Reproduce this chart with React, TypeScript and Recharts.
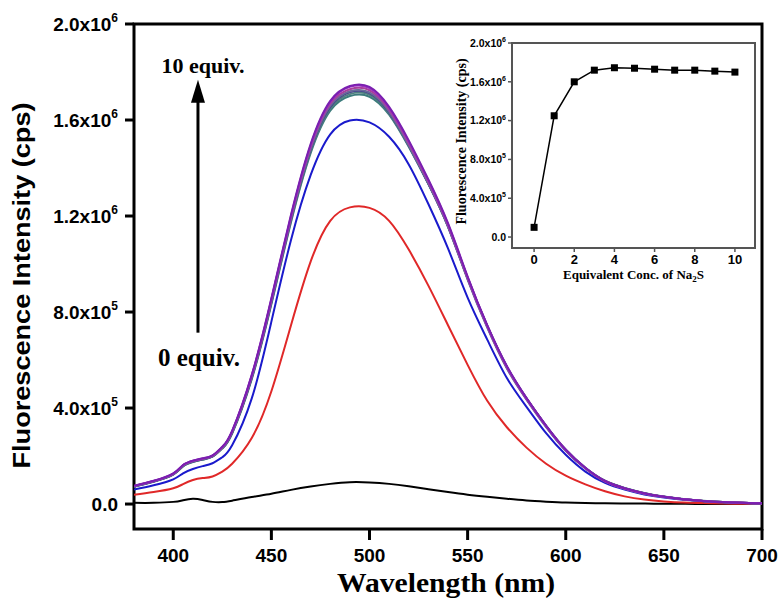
import { Line, LineChart, ReferenceArea, ReferenceLine, XAxis, YAxis } from "recharts";

const SANS = "'Liberation Sans', Arial, sans-serif";
const SERIF = "'Liberation Serif', 'Times New Roman', serif";

// emission spectra, wavelength in nm
const wavelengths = [
  380, 390, 400, 405, 410, 415, 420, 425, 430, 440, 450, 460, 470, 480, 490, 500, 510, 520,
  530, 540, 550, 560, 570, 580, 590, 600, 610, 620, 630, 640, 650, 660, 670, 680, 690, 700,
];

const equiv0 = [
  5e3, 5e3, 9e3, 1.6e4, 2.2e4, 1.7e4, 9e3, 8e3, 1.4e4, 2.9e4, 4.3e4, 5.9e4, 7.3e4, 8.4e4, 9.1e4, 9.0e4, 8.4e4, 7.4e4,
  6.2e4, 5.0e4, 3.9e4, 3.0e4, 2.2e4, 1.5e4, 1.0e4, 6e3, 4e3, 3e3, 2e3, 2e3, 1e3, 1e3, 0, 0, 0, 0,
];
const equiv1 = [
  3.9e4, 5.0e4, 6.6e4, 8.3e4, 1.0e5, 1.08e5, 1.15e5, 1.35e5, 1.68e5, 2.75e5, 4.7e5, 7.45e5, 1.01e6, 1.18e6, 1.236e6, 1.234e6, 1.18e6, 1.06e6,
  9.1e5, 7.45e5, 5.8e5, 4.3e5, 3.2e5, 2.35e5, 1.68e5, 1.18e5, 8.2e4, 5.3e4, 3.2e4, 1.9e4, 1.1e4, 6e3, 4e3, 2e3, 1e3, 0,
];
const equiv2 = [
  6.0e4, 7.8e4, 1.03e5, 1.28e5, 1.46e5, 1.58e5, 1.7e5, 1.95e5, 2.45e5, 4.4e5, 7.6e5, 1.1e6, 1.37e6, 1.54e6, 1.598e6, 1.59e6, 1.53e6, 1.415e6,
  1.25e6, 1.065e6, 8.6e5, 6.85e5, 5.25e5, 4.05e5, 2.95e5, 2.05e5, 1.35e5, 8.8e4, 6.0e4, 4.0e4, 2.7e4, 1.8e4, 1.2e4, 7e3, 4e3, 2e3,
];
const equiv3 = [
  7.4e4, 9.5e4, 1.25e5, 1.6e5, 1.78e5, 1.88e5, 2.0e5, 2.35e5, 3.0e5, 5.3e5, 8.45e5, 1.19e6, 1.48e6, 1.66e6, 1.72e6, 1.715e6, 1.635e6, 1.495e6,
  1.335e6, 1.155e6, 9.35e5, 7.35e5, 5.65e5, 4.35e5, 3.2e5, 2.22e5, 1.48e5, 9.4e4, 6.4e4, 4.3e4, 2.9e4, 1.9e4, 1.2e4, 7e3, 4e3, 2e3,
];
const equiv4 = [
  7.6e4, 9.7e4, 1.28e5, 1.63e5, 1.81e5, 1.91e5, 2.03e5, 2.39e5, 3.05e5, 5.38e5, 8.57e5, 1.205e6, 1.5e6, 1.68e6, 1.742e6, 1.738e6, 1.655e6, 1.515e6,
  1.352e6, 1.17e6, 9.48e5, 7.45e5, 5.75e5, 4.42e5, 3.27e5, 2.27e5, 1.51e5, 9.6e4, 6.6e4, 4.5e4, 3.0e4, 2.0e4, 1.3e4, 8e3, 5e3, 3e3,
];
const equiv5 = [
  7.5e4, 9.6e4, 1.27e5, 1.62e5, 1.8e5, 1.9e5, 2.02e5, 2.38e5, 3.04e5, 5.36e5, 8.53e5, 1.2e6, 1.495e6, 1.675e6, 1.738e6, 1.733e6, 1.65e6, 1.51e6,
  1.348e6, 1.166e6, 9.45e5, 7.43e5, 5.72e5, 4.4e5, 3.25e5, 2.25e5, 1.5e5, 9.5e4, 6.5e4, 4.4e4, 3.0e4, 2.0e4, 1.3e4, 8e3, 5e3, 3e3,
];
const equiv6 = [
  7.5e4, 9.6e4, 1.26e5, 1.61e5, 1.79e5, 1.89e5, 2.01e5, 2.36e5, 3.02e5, 5.33e5, 8.5e5, 1.195e6, 1.488e6, 1.668e6, 1.728e6, 1.724e6, 1.643e6, 1.503e6,
  1.342e6, 1.162e6, 9.42e5, 7.4e5, 5.7e5, 4.38e5, 3.24e5, 2.24e5, 1.49e5, 9.5e4, 6.5e4, 4.4e4, 3.0e4, 2.0e4, 1.3e4, 8e3, 5e3, 3e3,
];
const equiv7 = [
  7.3e4, 9.4e4, 1.24e5, 1.59e5, 1.77e5, 1.87e5, 1.99e5, 2.34e5, 2.98e5, 5.27e5, 8.42e5, 1.186e6, 1.476e6, 1.655e6, 1.716e6, 1.712e6, 1.632e6, 1.494e6,
  1.334e6, 1.156e6, 9.38e5, 7.38e5, 5.68e5, 4.37e5, 3.23e5, 2.23e5, 1.49e5, 9.5e4, 6.5e4, 4.4e4, 3.0e4, 2.0e4, 1.3e4, 8e3, 5e3, 3e3,
];
const equiv8 = [
  7.4e4, 9.5e4, 1.25e5, 1.6e5, 1.78e5, 1.88e5, 2.0e5, 2.35e5, 2.99e5, 5.29e5, 8.44e5, 1.188e6, 1.478e6, 1.657e6, 1.717e6, 1.713e6, 1.634e6, 1.497e6,
  1.338e6, 1.16e6, 9.42e5, 7.42e5, 5.71e5, 4.4e5, 3.25e5, 2.25e5, 1.5e5, 9.6e4, 6.6e4, 4.5e4, 3.0e4, 2.0e4, 1.3e4, 8e3, 5e3, 3e3,
];
const equiv9 = [
  7.3e4, 9.4e4, 1.24e5, 1.58e5, 1.76e5, 1.86e5, 1.98e5, 2.33e5, 2.96e5, 5.24e5, 8.37e5, 1.18e6, 1.469e6, 1.647e6, 1.708e6, 1.705e6, 1.628e6, 1.492e6,
  1.335e6, 1.158e6, 9.4e5, 7.41e5, 5.71e5, 4.4e5, 3.25e5, 2.25e5, 1.5e5, 9.6e4, 6.6e4, 4.5e4, 3.0e4, 2.0e4, 1.3e4, 8e3, 5e3, 3e3,
];
const equiv10 = [
  7.2e4, 9.3e4, 1.23e5, 1.57e5, 1.75e5, 1.85e5, 1.97e5, 2.31e5, 2.94e5, 5.2e5, 8.32e5, 1.174e6, 1.462e6, 1.639e6, 1.7e6, 1.697e6, 1.622e6, 1.488e6,
  1.333e6, 1.157e6, 9.4e5, 7.42e5, 5.72e5, 4.41e5, 3.26e5, 2.26e5, 1.51e5, 9.7e4, 6.7e4, 4.6e4, 3.1e4, 2.1e4, 1.4e4, 9e3, 5e3, 3e3,
];

const spectra = [equiv0, equiv1, equiv2, equiv3, equiv4, equiv5, equiv6, equiv7, equiv8, equiv9, equiv10];
const spectrumColors = [
  "#000000", "#e02828", "#1a1acc", "#6a6a9a", "#7a1fb0", "#9b30c0", "#a8409c",
  "#404090", "#707070", "#4f8080", "#3c7c7c",
];
// plateau curves first so the highest ones end up on top
const drawOrder = [0, 1, 2, 10, 9, 8, 7, 3, 6, 5, 4];

const mainTicksX = [400, 450, 500, 550, 600, 650, 700];
const mainTicksY = [0, 4e5, 8e5, 1.2e6, 1.6e6, 2e6];

// inset: peak intensity vs equivalents of Na2S
const equivalents = [0, 1, 2, 3, 4, 5, 6, 7, 8, 9, 10];
const peakIntensity = [1.0e5, 1.25e6, 1.6e6, 1.72e6, 1.745e6, 1.74e6, 1.73e6, 1.72e6, 1.72e6, 1.71e6, 1.70e6];
const insetTicksX = [0, 2, 4, 6, 8, 10];
const insetTicksY = [0, 4e5, 8e5, 1.2e6, 1.6e6, 2e6];

const spectrumData = wavelengths.map((nm, i) => {
  const row: Record<string, number> = { nm };
  spectra.forEach((s, k) => (row[`s${k}`] = s[i]));
  return row;
});
const insetData = equivalents.map((eq, i) => ({ eq, intensity: peakIntensity[i] }));

const MAIN_Y_MIN = -1.04e5;
const INSET_Y_MIN = -1.13e5;

function sciParts(v: number): [string, string] {
  if (v === 0) return ["0.0", ""];
  const e = Math.floor(Math.log10(v) + 1e-9);
  return [(v / 10 ** e).toFixed(1) + "x10", String(e)];
}

const SciTick = (props: any) => {
  const { x, y, payload, fs, sup } = props;
  const [base, exp] = sciParts(payload.value);
  return (
    <text x={x} y={y} dy="0.36em" textAnchor="end" fontFamily={SANS} fontWeight="bold" fontSize={fs} fill="#000">
      {base}
      {exp && (
        <tspan dy={-fs * 0.45} fontSize={sup}>
          {exp}
        </tspan>
      )}
    </text>
  );
};

const MainYTitle = ({ viewBox }: any) => (
  <text
    transform={`translate(30, ${viewBox.y + viewBox.height / 2 + 9}) rotate(-90)`}
    textAnchor="middle"
    fontFamily={SANS}
    fontWeight="bold"
    fontSize={24}
    textLength={366}
    lengthAdjust="spacingAndGlyphs"
    fill="#000"
  >
    Fluorescence Intensity (cps)
  </text>
);

const MainXTitle = ({ viewBox }: any) => (
  <text
    x={viewBox.x + viewBox.width / 2 - 2}
    y={viewBox.y + 63}
    textAnchor="middle"
    fontFamily={SERIF}
    fontWeight="bold"
    fontSize={27}
    textLength={218}
    lengthAdjust="spacingAndGlyphs"
    fill="#000"
  >
    Wavelength (nm)
  </text>
);

const InsetYTitle = ({ viewBox }: any) => (
  <text
    transform={`translate(26, ${viewBox.y + viewBox.height / 2 - 4}) rotate(-90)`}
    textAnchor="middle"
    fontFamily={SERIF}
    fontWeight="bold"
    fontSize={14}
    fill="#000"
  >
    Fluorescence Intensity (cps)
  </text>
);

const InsetXTitle = ({ viewBox }: any) => (
  <text x={viewBox.x + viewBox.width / 2} y={viewBox.y + 31} textAnchor="middle" fontFamily={SERIF} fontWeight="bold" fontSize={13} fill="#000">
    Equivalent Conc. of Na
    <tspan dy={3} fontSize={9}>
      2
    </tspan>
    <tspan dy={-3}>S</tspan>
  </text>
);

// arrow from "0 equiv." up to "10 equiv."
const ArrowShape = (p: any) => {
  const { x1, y1, x2, y2 } = p;
  const top = Math.min(y1, y2);
  const bottom = Math.max(y1, y2);
  return (
    <g>
      <line x1={x1} y1={bottom} x2={x2} y2={top + 20} stroke="#000" strokeWidth={3} />
      <polygon points={`${x2},${top} ${x2 - 7},${top + 23} ${x2 + 7},${top + 23}`} fill="#000" />
      <text x={x2 + 5} y={top - 7} textAnchor="middle" fontFamily={SERIF} fontWeight="bold" fontSize={22} fill="#000">
        10 equiv.
      </text>
      <text x={x1 + 1} y={bottom + 33} textAnchor="middle" fontFamily={SERIF} fontWeight="bold" fontSize={25} fill="#000">
        0 equiv.
      </text>
    </g>
  );
};

const SquareDot = (p: any) => (
  <rect key={`sq-${p.index}`} x={p.cx - 3.5} y={p.cy - 3.5} width={7} height={7} fill="#000" />
);

const axisTickText = { fontFamily: SANS, fontWeight: "bold", fill: "#000" } as const;

export default function App() {
  return (
    <div style={{ position: "absolute", left: 0, top: 0, width: 782, height: 600, background: "#fff" }}>
      <LineChart width={782} height={600} data={spectrumData} margin={{ top: 24, right: 20, bottom: 41, left: 0 }}>
        <XAxis
          dataKey="nm"
          type="number"
          domain={[380, 700]}
          ticks={mainTicksX}
          allowDataOverflow
          height={30}
          axisLine={false}
          tickLine={{ stroke: "#000", strokeWidth: 3 }}
          tickSize={11}
          tickMargin={9}
          tick={{ ...axisTickText, fontSize: 19 }}
          label={<MainXTitle />}
        />
        <YAxis
          type="number"
          domain={[MAIN_Y_MIN, 2e6]}
          ticks={mainTicksY}
          allowDataOverflow
          width={134}
          axisLine={false}
          tickLine={{ stroke: "#000", strokeWidth: 3 }}
          tickSize={9}
          tickMargin={7}
          tick={(p: any) => <SciTick {...p} fs={19} sup={12} />}
          label={<MainYTitle />}
        />
        <ReferenceArea x1={380} x2={700} y1={MAIN_Y_MIN} y2={2e6} fill="none" stroke="#000" strokeWidth={3} ifOverflow="visible" />
        {drawOrder.map((k) => (
          <Line
            key={`s${k}`}
            dataKey={`s${k}`}
            type="natural"
            stroke={spectrumColors[k]}
            strokeWidth={2}
            dot={false}
            isAnimationActive={false}
          />
        ))}
        <ReferenceLine
          segment={[
            { x: 412.6, y: 7.14e5 },
            { x: 412.6, y: 1.768e6 },
          ]}
          ifOverflow="visible"
          shape={ArrowShape}
        />
      </LineChart>

      <div style={{ position: "absolute", left: 440, top: 30 }}>
        <LineChart width={330} height={270} data={insetData} margin={{ top: 13, right: 15, bottom: 22, left: 0 }}>
          <XAxis
            dataKey="eq"
            type="number"
            domain={[-1.1, 11]}
            ticks={insetTicksX}
            allowDataOverflow
            height={30}
            axisLine={false}
            tickLine={{ stroke: "#555", strokeWidth: 1.5 }}
            tickSize={4}
            tickMargin={3}
            tick={{ ...axisTickText, fontSize: 13 }}
            label={<InsetXTitle />}
          />
          <YAxis
            type="number"
            domain={[INSET_Y_MIN, 2e6]}
            ticks={insetTicksY}
            allowDataOverflow
            width={72}
            axisLine={false}
            tickLine={{ stroke: "#555", strokeWidth: 1.5 }}
            tickSize={4}
            tickMargin={2}
            tick={(p: any) => <SciTick {...p} fs={10.5} sup={7} />}
            label={<InsetYTitle />}
          />
          <ReferenceArea x1={-1.1} x2={11} y1={INSET_Y_MIN} y2={2e6} fill="none" stroke="#555" strokeWidth={2} ifOverflow="visible" />
          <Line
            dataKey="intensity"
            type="linear"
            stroke="#000"
            strokeWidth={1.5}
            dot={SquareDot}
            isAnimationActive={false}
          />
        </LineChart>
      </div>
    </div>
  );
}
